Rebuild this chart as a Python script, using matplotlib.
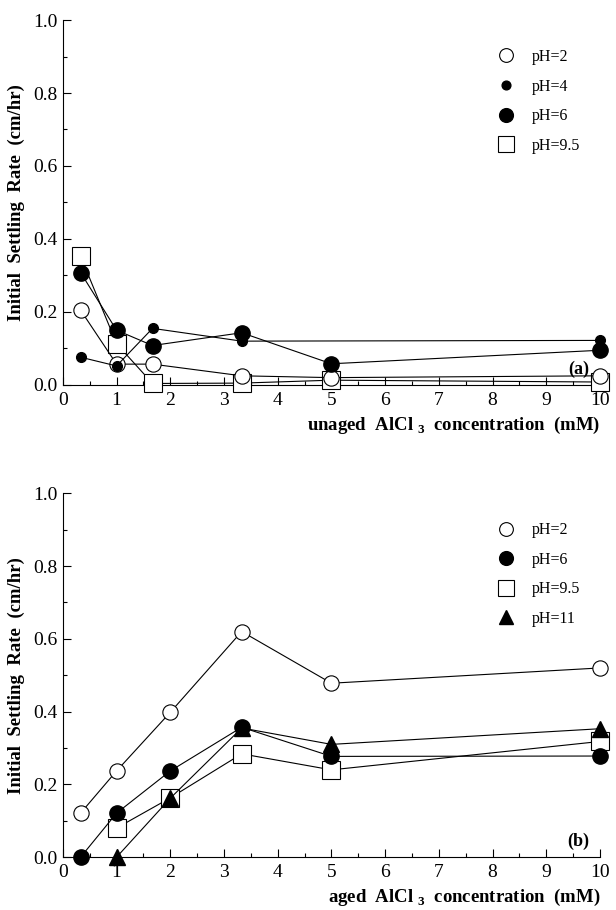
import matplotlib
matplotlib.use("Agg")
import matplotlib.pyplot as plt
from matplotlib.lines import Line2D
from matplotlib.ticker import MultipleLocator, FormatStrFormatter

plt.rcParams["font.family"] = ["Liberation Serif", "DejaVu Serif"]
plt.rcParams["mathtext.fontset"] = "custom"
plt.rcParams["mathtext.rm"] = "Liberation Serif"
plt.rcParams["mathtext.bf"] = "Liberation Serif:bold"

# panel (a): unaged AlCl3
conc_a = [0.33, 1.0, 1.67, 3.33, 5.0, 10.0]
ph2_a = [0.205, 0.057, 0.057, 0.025, 0.02, 0.025]
ph4_x = [0.33, 1.0, 1.67, 3.33, 10.0]
ph4_a = [0.076, 0.052, 0.155, 0.12, 0.122]
ph6_a = [0.308, 0.15, 0.108, 0.143, 0.058, 0.095]
ph95_a = [0.353, 0.113, 0.004, 0.005, 0.013, 0.008]

# panel (b): aged AlCl3
conc_b = [0.33, 1.0, 2.0, 3.33, 5.0, 10.0]
ph2_b = [0.121, 0.237, 0.398, 0.62, 0.478, 0.52]
ph6_b = [0.0, 0.121, 0.237, 0.357, 0.277, 0.278]
ph95_x = [1.0, 2.0, 3.33, 5.0, 10.0]
ph95_b = [0.08, 0.163, 0.284, 0.24, 0.318]
ph11_x = [1.0, 2.0, 3.33, 5.0, 10.0]
ph11_b = [0.0, 0.162, 0.355, 0.31, 0.353]

fig = plt.figure(figsize=(6.16, 9.10), dpi=100)
ax1 = fig.add_axes([0.102, 0.577, 0.872, 0.401])
ax2 = fig.add_axes([0.102, 0.058, 0.872, 0.400])

line = dict(color="k", lw=0.8, clip_on=False)
openc = dict(marker="o", ms=11, mfc="white", mec="k", mew=0.8)
bigdot = dict(marker="o", ms=11, mfc="k", mec="k")
smalldot = dict(marker="o", ms=7, mfc="k", mec="k")
square = dict(marker="s", ms=13, mfc="white", mec="k", mew=0.8)
tri = dict(marker="^", ms=11, mfc="k", mec="k")

ax1.plot(conc_a, ph2_a, **line, **openc, zorder=4)
ax1.plot(ph4_x, ph4_a, **line, **smalldot, zorder=5)
ax1.plot(conc_a, ph6_a, **line, **bigdot, zorder=4)
ax1.plot(conc_a, ph95_a, **line, **square, zorder=3)

ax2.plot(conc_b, ph2_b, **line, **openc, zorder=4)
ax2.plot(conc_b, ph6_b, **line, **bigdot, zorder=4)
ax2.plot(ph95_x, ph95_b, **line, **square, zorder=3)
ax2.plot(ph11_x, ph11_b, **line, **tri, zorder=5)

leg_a = [("pH=2", openc), ("pH=4", smalldot), ("pH=6", bigdot), ("pH=9.5", square)]
leg_b = [("pH=2", openc), ("pH=6", bigdot), ("pH=9.5", square), ("pH=11", tri)]

panels = [(ax1, "unaged  AlCl $_{\\mathbf{3}}$  concentration  (mM)", "(a)", leg_a),
          (ax2, "aged  AlCl $_{\\mathbf{3}}$  concentration  (mM)", "(b)", leg_b)]
for ax, xl, tag, leg in panels:
    ax.set_xlim(0, 10)
    ax.set_ylim(0, 1.0)
    ax.spines["top"].set_visible(False)
    ax.spines["right"].set_visible(False)
    ax.xaxis.set_major_locator(MultipleLocator(1))
    ax.xaxis.set_minor_locator(MultipleLocator(0.5))
    ax.yaxis.set_major_locator(MultipleLocator(0.2))
    ax.yaxis.set_minor_locator(MultipleLocator(0.1))
    ax.yaxis.set_major_formatter(FormatStrFormatter("%.1f"))
    ax.tick_params(which="both", direction="in", labelsize=14, width=0.8)
    ax.tick_params(which="major", length=6)
    ax.tick_params(which="minor", length=3)
    ax.tick_params(axis="x", pad=5)
    ax.set_xlabel(xl, fontsize=13.5, fontweight="bold", loc="right", labelpad=4)
    ax.set_ylabel("Initial  Settling  Rate  (cm/hr)", fontsize=13.5, fontweight="bold",
                  labelpad=6)
    ax.text(9.8, 0.03, tag, fontsize=13, fontweight="bold", ha="right")
    handles = [Line2D([], [], ls="none", **m) for _, m in leg]
    ax.legend(handles, [t for t, _ in leg], loc="upper right",
              bbox_to_anchor=(0.99, 0.96), frameon=False, fontsize=11.5,
              handlelength=1.2, labelspacing=0.85, handletextpad=1.0,
              markerscale=0.9)

fig.savefig("out.png", dpi=100)
